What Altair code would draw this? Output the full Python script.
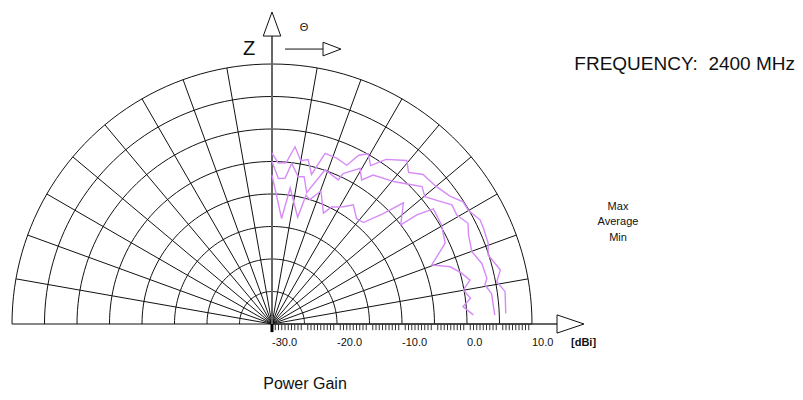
import altair as alt
import pandas as pd

# ---------------- data (angle from Z axis in degrees, gain in dBi) ----------------
max_theta = [0, 2.2, 5.0, 7.4, 10.0, 12.4, 14.8, 17.3, 21.3, 25.2, 27.2, 29.5, 31.9, 34.7, 39.5,
             42.0, 45.3, 49.7, 54.3, 57.4, 59.9, 63.4, 65.9, 69.5, 72.3, 76.7, 79.3, 82.1, 87.4]
max_gain = [-3.7, -5.2, -5.1, -2.5, -4.5, -4.1, -6.2, -2.5, -2.6, -3.0, -0.8, 0.1, -1.3, 0.8, 2.6,
            1.4, 2.7, 2.9, 3.7, 4.9, 4.9, 5.8, 5.7, 5.5, 4.9, 6.1, 5.2, 6.2, 6.0]

avg_theta = [0, 2.5, 5.1, 7.0, 10.1, 12.3, 14.8, 19.0, 24.7, 25.3, 29.5, 31.9, 34.2, 40.8,
             43.0, 47.5, 50.2, 53.9, 56.5, 59.5, 62.8, 65.6, 70.1, 73.9, 78.0, 79.6, 82.1, 87.7]
avg_gain = [-5.0, -7.6, -7.5, -5.1, -7.0, -6.8, -9.1, -4.9, -5.6, -4.4, -2.5, -3.9, -2.3, -1.1,
            -0.4, 1.3, 0.6, 2.0, 3.2, 3.0, 3.9, 3.2, 2.7, 3.6, 3.8, 3.3, 4.1, 4.3]

min_theta = [0, 5.2, 7.6, 13.5, 14.8, 16.9, 20.2, 24.9, 27.0, 31.3, 34.3, 38.7, 42.0, 45.2,
             47.3, 52.4, 53.0, 54.5, 59.7, 65.0, 69.7, 72.2, 75.0, 77.5, 79.9, 82.6, 84.8, 87.4]
min_gain = [-7.1, -13.7, -8.9, -13.1, -9.5, -10.0, -8.2, -11.2, -9.8, -8.9, -7.8, -9.2, -9.0, -5.9,
            -2.5, -5.0, -2.1, 0.5, 0.2, -0.6, -3.8, -1.2, 0.2, 1.2, -0.1, 0.8, -0.5, 1.0]

series_names = ["Max", "Average", "Min"]
tick_values = [-30, -20, -10, 0, 10]
tick_labels = ["-30.0", "-20.0", "-10.0", "0.0", "10.0"]
ring_values = [-25, -20, -15, -10, -5, 0, 5, 10]
spoke_angles = [0, 10, 20, 30, 40, 50, 60, 70, 80, 100, 110, 120, 130, 140, 150, 160, 170, 180]
minor_ticks = [v / 2 for v in range(-59, 20) if v % 10 != 0]

R_MIN = -30  # gain at the centre
FONT = "Liberation Sans"
LINE_COLOR = "#d68bf8"

W, H = 787, 384
PX = 6.5  # pixels per dB
XDOM = [-264 / PX, (W - 264) / PX]
YDOM = [(316 - H) / PX, 316 / PX]
xs = alt.Scale(domain=XDOM, nice=False, zero=False)
ys = alt.Scale(domain=YDOM, nice=False, zero=False)


def X(f):
    return alt.X(f, type="quantitative", scale=xs, axis=None)


def Y(f):
    return alt.Y(f, type="quantitative", scale=ys, axis=None)


# ---------------- grid ----------------
ring_rows = [{"ring": rv, "phi": p} for rv in ring_values for p in range(0, 181, 2)]
rings = alt.Chart(pd.DataFrame(ring_rows)).transform_calculate(
    r=f"datum.ring - ({R_MIN})",
    x="datum.r * cos(datum.phi * PI / 180)",
    y="datum.r * sin(datum.phi * PI / 180)",
).mark_line(color="#111", strokeWidth=1).encode(
    x=X("x"), y=Y("y"), detail="ring:N", order="phi:Q")

spokes = alt.Chart(pd.DataFrame({"phi": spoke_angles})).transform_calculate(
    r=f"{ring_values[-1]} - ({R_MIN})",
    x0="0", y0="0",
    x1="datum.r * cos(datum.phi * PI / 180)",
    y1="datum.r * sin(datum.phi * PI / 180)",
).mark_rule(color="#111", strokeWidth=1).encode(
    x=X("x0"), y=Y("y0"), x2="x1:Q", y2="y1:Q")

# horizontal axis (to the right, with arrow)
axis_df = pd.DataFrame({"x0": [0.0], "y0": [0.0], "x1": [43.85], "y1": [0.0]})
x_axis = alt.Chart(axis_df).mark_rule(color="#333", strokeWidth=1.3).encode(
    x=X("x0"), y=Y("y0"), x2="x1:Q", y2="y1:Q")

# Z axis (vertical, with arrow)
z_df = pd.DataFrame({"x0": [0.0], "y0": [0.0], "x1": [0.0], "y1": [44.3]})
z_axis = alt.Chart(z_df).mark_rule(color="#666", strokeWidth=2).encode(
    x=X("x0"), y=Y("y0"), x2="x1:Q", y2="y1:Q")

# theta arrow shaft
t_df = pd.DataFrame({"x0": [2.0], "y0": [42.3], "x1": [7.85], "y1": [42.3]})
t_axis = alt.Chart(t_df).mark_rule(color="#111", strokeWidth=1).encode(
    x=X("x0"), y=Y("y0"), x2="x1:Q", y2="y1:Q")

# arrow heads (outlined triangles)
tri = []
for g, pts in {
    "x": [(43.85, 1.4), (48.0, 0.0), (43.85, -1.4), (43.85, 1.4)],
    "z": [(-1.35, 44.3), (0.0, 48.0), (1.35, 44.3), (-1.35, 44.3)],
    "t": [(7.85, 43.35), (10.6, 42.3), (7.85, 41.25), (7.85, 43.35)],
}.items():
    for i, (a, b) in enumerate(pts):
        tri.append({"g": g, "i": i, "x": a, "y": b})
arrows = alt.Chart(pd.DataFrame(tri)).mark_line(color="#111", strokeWidth=1).encode(
    x=X("x"), y=Y("y"), detail="g:N", order="i:Q")

# minor ticks below the horizontal axis
ticks = alt.Chart(pd.DataFrame({"v": minor_ticks})).transform_calculate(
    x=f"datum.v - ({R_MIN})", y0="0", y1="-0.95",
).mark_rule(color="#333", strokeWidth=1).encode(x=X("x"), y=Y("y0"), y2="y1:Q")

centre_tick = alt.Chart(pd.DataFrame({"x": [0.0], "y0": [0.6], "y1": [-1.25]})).mark_rule(
    color="#000", strokeWidth=3).encode(x=X("x"), y=Y("y0"), y2="y1:Q")

labels = alt.Chart(pd.DataFrame({"v": tick_values, "t": tick_labels})).transform_calculate(
    x=f"datum.v - ({R_MIN})", y="-2.95",
).mark_text(align="left", baseline="middle", fontSize=11, font=FONT, color="#111").encode(
    x=X("x"), y=Y("y"), text="t:N")

# ---------------- measured curves ----------------
rows = []
for name, th, gn in zip(series_names, [max_theta, avg_theta, min_theta], [max_gain, avg_gain, min_gain]):
    for i, (t, g) in enumerate(zip(th, gn)):
        rows.append({"series": name, "idx": i, "theta": t, "gain": g})
curves = alt.Chart(pd.DataFrame(rows)).transform_calculate(
    r=f"datum.gain - ({R_MIN})",
    x="datum.r * sin(datum.theta * PI / 180)",
    y="datum.r * cos(datum.theta * PI / 180)",
).mark_line(color=LINE_COLOR, strokeWidth=1.4).encode(
    x=X("x"), y=Y("y"), detail="series:N", order="idx:Q")

# ---------------- annotations ----------------
one = pd.DataFrame({"a": [0]})


def txt(s, x, y, size, align="center", weight="normal"):
    return alt.Chart(one).mark_text(text=s, align=align, baseline="middle", fontSize=size,
                                    font=FONT, fontWeight=weight, color="#111").encode(
        x=alt.value(x), y=alt.value(y))


notes = [
    txt("Z", 241, 41, 20),
    txt("\u0398", 296, 20, 11),
    txt("FREQUENCY:\u00a0 2400 MHz", 787, 56, 19, align="right"),
    txt(series_names[0], 610, 199, 11),
    txt(series_names[1], 610, 214, 11),
    txt(series_names[2], 610, 230, 11),
    txt("Power Gain", 297, 376, 16),
    txt("[dBi]", 563, 335, 11, align="left", weight="bold"),
]

chart = alt.layer(rings, spokes, ticks, x_axis, centre_tick, z_axis, t_axis, arrows, labels,
                  curves, *notes).properties(
    width=W, height=H, padding=0, autosize=alt.AutoSizeParams(type="none")
).configure_view(stroke=None)

chart.save("out.html", embed_options={"renderer": "svg", "actions": False})
